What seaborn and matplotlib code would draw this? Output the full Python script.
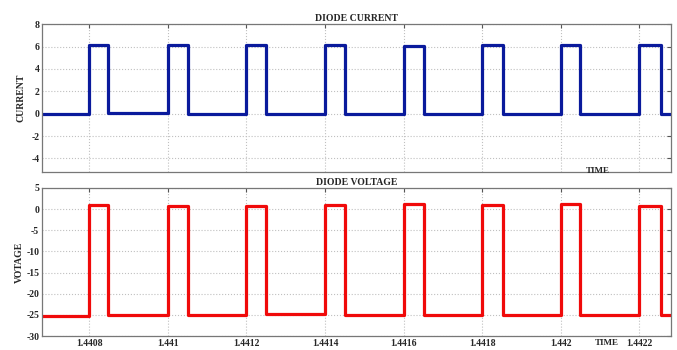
import numpy as np
import pandas as pd
import seaborn as sns
import matplotlib.pyplot as plt

# switching edges (seconds)
rise_t = [1.44080, 1.44100, 1.44120, 1.44140, 1.44160, 1.44180, 1.44200, 1.44220]
fall_t = [1.440848, 1.441052, 1.441250, 1.441451, 1.441651, 1.441852, 1.442050, 1.442254]
t_start = 1.44068
t_end = 1.44228

# diode current levels (A)
i_on = [6.1, 6.15, 6.15, 6.1, 6.05, 6.1, 6.15, 6.1]
i_off = [0.0, 0.05, -0.05, 0.0, 0.0, -0.05, 0.0, 0.0, 0.0]

# diode voltage levels (V)
v_on = [1.0, 0.8, 0.8, 0.9, 1.1, 1.0, 1.1, 0.7]
v_off = [-25.2, -25.0, -25.1, -24.9, -25.0, -25.1, -25.1, -25.0, -25.0]

xticks = [1.4408, 1.4410, 1.4412, 1.4414, 1.4416, 1.4418, 1.4420, 1.4422]
xtick_labels = ['1.4408', '1.441', '1.4412', '1.4414', '1.4416', '1.4418', '1.442', '1.4422']


def square_wave(on, off):
    t = [t_start]
    y = [off[0]]
    for k in range(len(rise_t)):
        t += [rise_t[k], fall_t[k]]
        y += [on[k], off[k + 1]]
    t.append(t_end)
    y.append(off[-1])
    return pd.DataFrame({'t': t, 'y': y})


cur = square_wave(i_on, i_off)
vol = square_wave(v_on, v_off)

sns.set_style('white')
plt.rcParams['font.family'] = ['Liberation Serif', 'DejaVu Serif']
plt.rcParams['font.weight'] = 'bold'
plt.rcParams['axes.unicode_minus'] = False

fig = plt.figure(figsize=(6.77, 3.5), dpi=100)
ax1 = fig.add_axes([0.062, 0.509, 0.929, 0.422])
ax2 = fig.add_axes([0.062, 0.040, 0.929, 0.423])

sns.lineplot(data=cur, x='t', y='y', ax=ax1, color='#0a1a9c', lw=2.3,
             drawstyle='steps-post', estimator=None, sort=False)
sns.lineplot(data=vol, x='t', y='y', ax=ax2, color='#f00a0a', lw=2.3,
             drawstyle='steps-post', estimator=None, sort=False)

for ax in (ax1, ax2):
    ax.set_xlim(t_start, t_end)
    ax.set_xticks(xticks)
    ax.grid(True, color='#c0c0c0', ls=':', lw=0.8)
    for s in ax.spines.values():
        s.set_color('#777777')
        s.set_linewidth(0.9)
    ax.tick_params(direction='in', top=True, right=True, length=3,
                   color='#555555', labelsize=7, pad=2)
    for lab in ax.get_yticklabels() + ax.get_xticklabels():
        lab.set_fontweight('bold')
    ax.set_xlabel('')

ax1.set_ylim(-5.2, 8)
ax1.set_yticks([-4, -2, 0, 2, 4, 6, 8])
ax1.set_xticklabels([])
ax1.set_ylabel('CURRENT', fontsize=7, fontweight='bold', labelpad=4)
ax1.set_title('DIODE CURRENT', fontsize=7, fontweight='bold', pad=2)
ax1.text(598, 179, 'TIME', transform=None, fontsize=6.5, fontweight='bold',
         ha='center', va='center')

ax2.set_ylim(-30, 5)
ax2.set_yticks([-30, -25, -20, -15, -10, -5, 0, 5])
ax2.set_xticklabels(xtick_labels, fontweight='bold')
ax2.set_ylabel('VOTAGE', fontsize=7, fontweight='bold', labelpad=2)
ax2.set_title('DIODE VOLTAGE', fontsize=7, fontweight='bold', pad=2)
ax2.text(607, 7, 'TIME', transform=None, fontsize=6.5, fontweight='bold',
         ha='center', va='center')

fig.savefig('out.png', dpi=100)
